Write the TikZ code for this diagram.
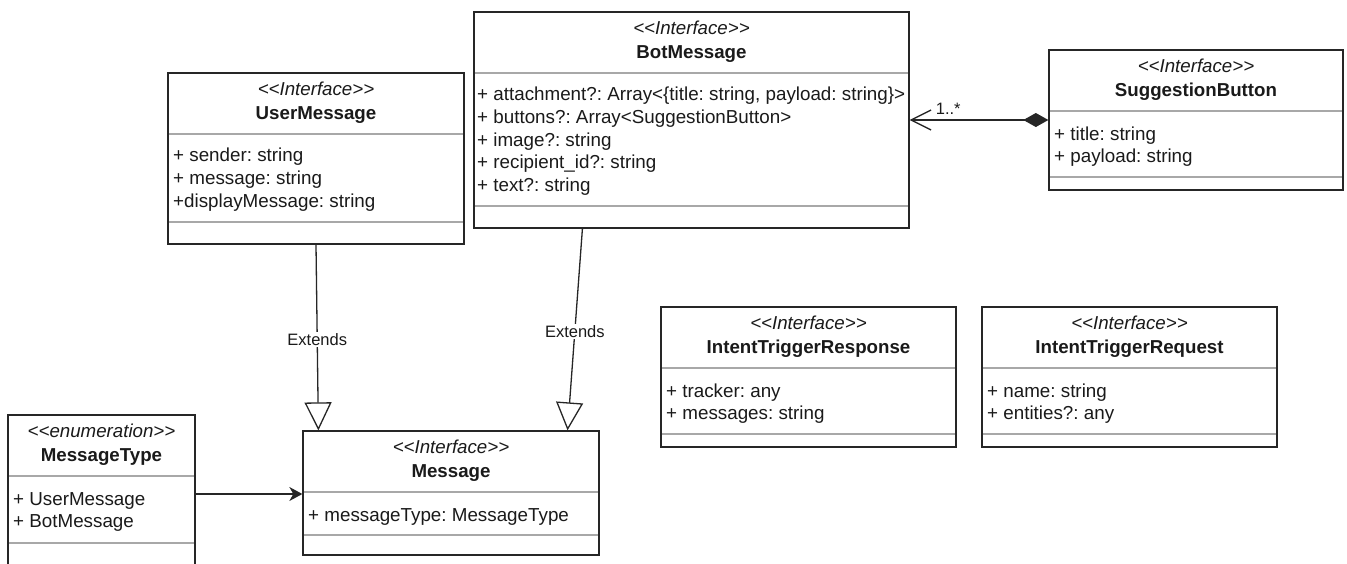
\documentclass[tikz,border=0pt]{standalone}
\usepackage{fontspec}
\setmainfont{Liberation Sans}[Ligatures=TeXOff]
\usetikzlibrary{arrows.meta,calc}
\frenchspacing
\definecolor{sepgray}{HTML}{A8A8A8}
\definecolor{boxline}{HTML}{262626}
\definecolor{txt}{HTML}{1A1A1A}
\newcommand\stereo[1]{\textit{<\kern0pt<#1>\kern0pt>}}
\tikzset{
  clsbox/.style={draw=boxline, line width=1.3pt, rectangle, inner sep=0pt},
  sepline/.style={draw=sepgray, line width=1.3pt},
  basetxt/.style={text=txt, inner sep=0pt, text height=13.4pt, text depth=3.9pt},
  stereotxt/.style={basetxt, font=\fontsize{18.7}{22}\selectfont\frenchspacing},
  titletxt/.style={basetxt, font=\fontsize{18.7}{22}\selectfont\bfseries\frenchspacing},
  attrtxt/.style={basetxt, anchor=west, font=\fontsize{18.8}{22}\selectfont\frenchspacing},
  lbl/.style={text=txt, font=\fontsize{16.5}{20}\selectfont, fill=white, inner sep=1.5pt},
  multtxt/.style={text=txt, font=\fontsize{16.5}{20}\selectfont, inner sep=0pt},
  conn/.style={draw=boxline, line width=1.3pt},
}
% #1 name, #2 left, #3 top, #4 right, #5 bottom, #6 second separator, #7 stereotype, #8 title
\newcommand\umlclass[8]{%
  \draw[sepline] ({#2},{#3+61}) -- ({#4},{#3+61});
  \draw[sepline] ({#2},{#6}) -- ({#4},{#6});
  \node[clsbox, minimum width={#4-#2}, minimum height={#5-#3}] (#1) at ({(#2+#4)/2},{(#3+#5)/2}) {};
  \node[stereotxt] (#1-st) at ({(#2+#4)/2},{#3+18}) {\stereo{#7}};
  \node[titletxt] (#1-ti) at ({(#2+#4)/2},{#3+41.5}) {#8};
}
\newcommand\attr[4]{\node[attrtxt] (#1) at ({#2},{#3+1.8}) {#4};}
\begin{document}
\begin{tikzpicture}[x=1pt,y=-1pt]
\useasboundingbox (0,0) rectangle (1347,563);
\clip (0,0) rectangle (1347,563);
\fill[white] (0,0) rectangle (1347,563);

% BotMessage
\umlclass{bot}{474}{12}{909}{228}{206}{Interface}{BotMessage}
\attr{bot-a1}{477}{94}{+ attachment?: Array<\{title: string, payload: string\}>}
\attr{bot-a2}{477}{116.75}{+ buttons?: Array<SuggestionButton>}
\attr{bot-a3}{477}{139.5}{+ image?: string}
\attr{bot-a4}{477}{162.25}{+ recipient\_id?: string}
\attr{bot-a5}{477}{185}{+ text?: string}

% UserMessage
\umlclass{user}{168}{73}{464}{244}{222}{Interface}{UserMessage}
\attr{user-a1}{173}{155}{+ sender: string}
\attr{user-a2}{173}{178}{+ message: string}
\attr{user-a3}{173}{201}{+displayMessage: string}

% SuggestionButton
\umlclass{sugg}{1049}{50}{1343}{190}{177}{Interface}{SuggestionButton}
\attr{sugg-a1}{1054}{134}{+ title: string}
\attr{sugg-a2}{1054}{156}{+ payload: string}

% MessageType
\umlclass{mtype}{8}{415}{195}{573}{543}{enumeration}{MessageType}
\attr{mtype-a1}{13}{499}{+ UserMessage}
\attr{mtype-a2}{13}{521}{+ BotMessage}

% Message
\umlclass{msg}{303}{431}{599}{555}{535}{Interface}{Message}
\attr{msg-a1}{308}{515}{+ messageType: MessageType}

% IntentTriggerResponse
\umlclass{itresp}{661}{307}{956}{447}{434}{Interface}{IntentTriggerResponse}
\attr{itresp-a1}{666}{391}{+ tracker: any}
\attr{itresp-a2}{666}{413}{+ messages: string}

% IntentTriggerRequest
\umlclass{itreq}{982}{307}{1277}{447}{434}{Interface}{IntentTriggerRequest}
\attr{itreq-a1}{987}{391}{+ name: string}
\attr{itreq-a2}{987}{413}{+ entities?: any}

% Connectors
\draw[conn, {Straight Barb[length=20pt,width=20pt,line width=1.3pt]}-{Diamond[length=25pt,width=14pt]}] (bot.east) -- (sugg.west);
\node[multtxt, anchor=base west] (mult) at ($(bot.east)+(26,-6)$) {1..*};

\draw[conn, -{Stealth[length=13pt,width=14pt,inset=4pt]}] (mtype.east) -- (mtype.east -| msg.west);

\draw[conn, -{Triangle[open,length=28pt,width=27pt,fill=white]}]
  (user.south) -- node[lbl, pos=0.51] (ext1) {Extends} ($(msg.north west)!0.054!(msg.north east)$);
\draw[conn, -{Triangle[open,length=28pt,width=27pt,fill=white]}]
  ($(bot.south west)!0.25!(bot.south east)$) -- node[lbl, pos=0.51] (ext2) {Extends} ($(msg.north west)!0.892!(msg.north east)$);
\end{tikzpicture}
\end{document}
